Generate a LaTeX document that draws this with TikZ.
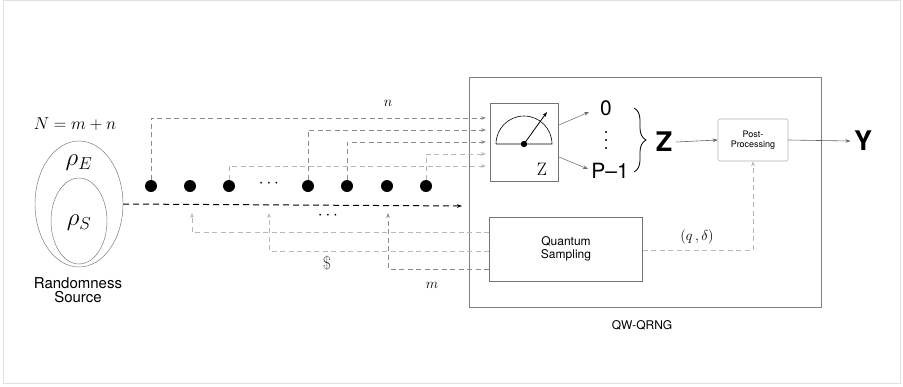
\documentclass[tikz,border=0pt]{standalone}
\usepackage{fontspec}
\setsansfont{TeX Gyre Heros}
\usetikzlibrary{arrows.meta,decorations.pathreplacing,shapes.geometric}
\begin{document}
\begin{tikzpicture}[x=1pt,y=-1pt,
  tip/.style={-{Stealth[length=5pt,width=3.6pt]}},
  feed/.style={tip,draw=black!45,dash pattern=on 5pt off 3.5pt,line width=0.6pt},
  feedl/.style={feed,draw=black!28},
  solidarr/.style={tip,draw=black!60,line width=0.6pt},
  qbit/.style={circle,fill=black,minimum size=12pt,inner sep=0pt},
  lab/.style={font=\sffamily\fontsize{12}{13}\selectfont,align=center},
  graybox/.style={draw=black!55,line width=0.6pt},
]
\useasboundingbox (0,0) rectangle (903,386);
\draw[black!12,line width=1pt] (3,0.5) rectangle (900,383);

% source
\node (N) at (75,124) {\fontsize{17}{18}\selectfont$N=m+n$};
\node[draw=black!55,ellipse,minimum width=88pt,minimum height=126pt,inner sep=0pt,line width=0.45pt] (outer) at (79,204) {};
\node[draw=black!55,ellipse,minimum width=56pt,minimum height=86pt,inner sep=0pt,line width=0.45pt] (inner) at (79,221) {};
\node (rhoE) at (79,163) {\fontsize{26}{28}\selectfont$\rho_E$};
\node (rhoS) at (79,223) {\fontsize{26}{28}\selectfont$\rho_S$};
\node[font=\sffamily\fontsize{15}{16}\selectfont,align=center] (src) at (78,290) {Randomness\\[-2pt]Source};

% qubits
\foreach \i/\x in {1/151,2/190,3/229,4/308,5/347,6/387,7/426}
  \node[qbit] (d\i) at (\x,186) {};
\node (dots1) at (269,184) {\fontsize{16}{16}\selectfont$\cdots$};

% main stream
\coordinate (streamend) at (462,206);
\draw[tip,black,line width=1pt,dash pattern=on 6pt off 4pt] (outer.east) -- (streamend);

% big box
\node[graybox,draw=black!50,minimum width=352pt,minimum height=230pt,inner sep=0pt] (qw) at (645,192) {};
\node[lab] (qwlab) at (642,325) {QW-QRNG};

% meter
\node[graybox,minimum width=68pt,minimum height=78pt,inner sep=0pt] (meter) at (524,142) {};
\coordinate (mc) at (524,144);
\draw[black,line width=0.6pt] (496,144) -- (552,144) arc[start angle=0,end angle=180,radius=28pt];
\draw[tip,black,line width=0.8pt] (mc) -- (547,112);
\fill (mc) circle (3.2pt);
\node (mz) at (542,169) {\fontsize{18}{18}\selectfont\rmfamily Z};

% input feeds
\coordinate (in1) at (486,118);
\coordinate (in2) at (486,130);
\coordinate (in3) at (486,142);
\coordinate (in4) at (486,154);
\coordinate (in5) at (486,166);
\draw[feed] (d1.north) |- (in1);
\draw[feed] (d4.north) |- (in2);
\draw[feed] (d5.north) |- (in3);
\draw[feedl] (d7.north) |- (in4);
\draw[feedl] (d3.north) |- (in5);
\node (nlab) at (388,103) {\fontsize{14}{14}\selectfont$n$};

% outcomes
\node[font=\sffamily\fontsize{21}{21}\selectfont] (o0) at (606,108) {0};
\foreach \y in {132,140,148} \fill (606,\y) circle (1.2pt);
\node[font=\sffamily\fontsize{21}{21}\selectfont] (op) at (610,171) {P\textendash1};
\coordinate (t0) at (589,112);
\coordinate (tp) at (588,169);
\draw[tip,black!60,line width=0.5pt] (559,125) -- (t0);
\draw[tip,black!60,line width=0.5pt] (559,157) -- (tp);
\draw[decorate,decoration={brace,amplitude=12pt},line width=0.8pt] (634,108) -- (634,172);
\node[font=\sffamily\bfseries\fontsize{27}{27}\selectfont] (Z) at (664,142) {Z};

% post-processing
\node[draw=black!30,rounded corners=1.5pt,line width=0.6pt,minimum width=70pt,minimum height=42pt,inner sep=0pt,
      font=\sffamily\fontsize{9}{10.5}\selectfont,align=center] (pp) at (753,140) {Post-\\Processing};
\draw[solidarr] (Z.east) -- (pp.west);
\node[font=\sffamily\bfseries\fontsize{27}{27}\selectfont] (Y) at (863,141) {Y};
\draw[solidarr] (pp.east) -- (Y.west);

% quantum sampling
\node[graybox,minimum width=153pt,minimum height=64pt,inner sep=0pt,
      font=\sffamily\fontsize{12}{13}\selectfont,align=center] (qs) at (566,249) {Quantum\\Sampling};
\coordinate (qd) at (753,250);
\draw[feedl] (qs.east |- qd) -| (pp.south);
\node (qdlab) at (697,237) {\fontsize{14}{14}\selectfont$(q\,,\delta)$};

% sampling feedback
\coordinate (a1) at (192,213);
\coordinate (a2) at (269,213);
\coordinate (a3) at (388,213);
\draw[feedl] (qs.west |- {(0,232)}) -| (a1);
\draw[feedl] (qs.west |- {(0,251)}) -| (a2);
\draw[feed] (qs.west |- {(0,269)}) -| (a3);
\node (dots2) at (328,216) {\fontsize{16}{16}\selectfont$\cdots$};
\node[font=\rmfamily\fontsize{18}{18}\selectfont,text=black!75] (dollar) at (327,263) {\$};
\node (mlab) at (432,285) {\fontsize{14}{14}\selectfont$m$};
\end{tikzpicture}
\end{document}
